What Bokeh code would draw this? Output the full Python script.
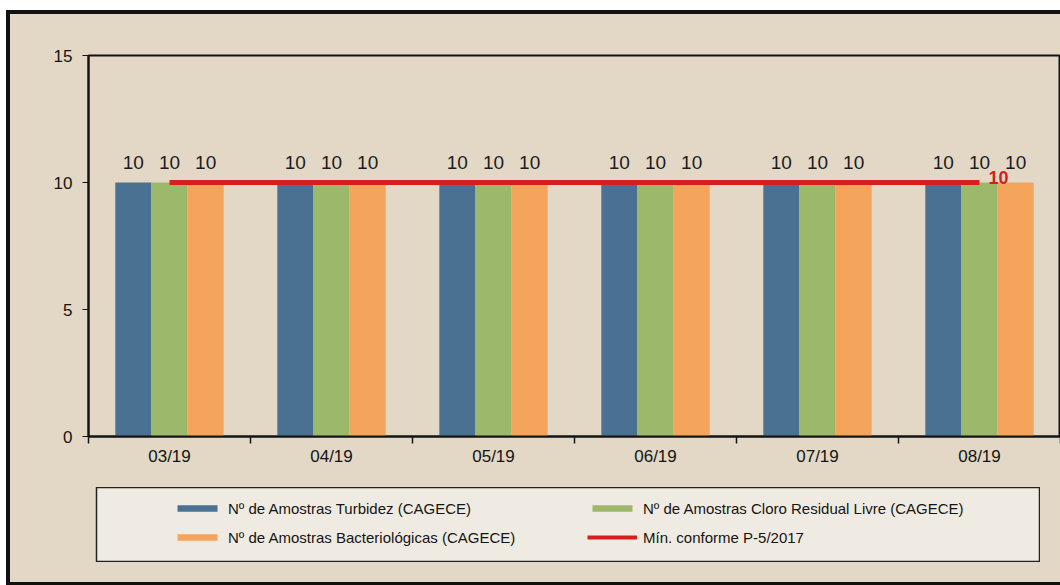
from bokeh.plotting import figure
from bokeh.models import Range1d, FixedTicker, Legend, LegendItem, ColumnDataSource
from bokeh.layouts import column
from bokeh.core.properties import value
from bokeh.embed import file_html
from bokeh.resources import INLINE

# ---------------- data ----------------
months = ["03/19", "04/19", "05/19", "06/19", "07/19", "08/19"]
turbidez = [10, 10, 10, 10, 10, 10]
cloro = [10, 10, 10, 10, 10, 10]
bacteriologicas = [10, 10, 10, 10, 10, 10]
minimo = [10, 10, 10, 10, 10, 10]
y_ticks = [0, 5, 10, 15]
name_turbidez = "Nº de Amostras Turbidez (CAGECE)"
name_cloro = "Nº de Amostras Cloro Residual Livre (CAGECE)"
name_bact = "Nº de Amostras Bacteriológicas (CAGECE)"
name_min = "Mín. conforme P-5/2017"

# ---------------- style ----------------
FONT = "Liberation Sans"
BG = "#e3d8c6"
LEG_BG = "#f0ebe2"
C_BLUE = "#4a7192"
C_GREEN = "#9cb86a"
C_ORANGE = "#f5a55b"
C_RED = "#d41f1f"
INK = "#141414"

n = len(months)
centers = [i + 0.5 for i in range(n)]
bar_w = 0.223
series = [
    (turbidez, C_BLUE, -bar_w),
    (cloro, C_GREEN, 0.0),
    (bacteriologicas, C_ORANGE, bar_w),
]

p = figure(width=1050, height=466,
           x_range=Range1d(0, n), y_range=Range1d(0, 15),
           output_backend="svg", toolbar_location=None,
           min_border_left=78, min_border_right=0,
           min_border_top=41, min_border_bottom=44,
           background_fill_color=BG, border_fill_color=BG,
           outline_line_color=INK, outline_line_width=2)
p.margin = (0, 0, 0, 0)
p.xgrid.visible = False
p.ygrid.visible = False

for vals, col, off in series:
    src = ColumnDataSource(dict(x=[c + off for c in centers], top=vals,
                                lab=[str(v) for v in vals]))
    p.vbar(x="x", top="top", width=bar_w, source=src,
           fill_color=col, line_color=None)
    p.text(x="x", y="top", text="lab", source=src,
           text_align="center", text_baseline="alphabetic", y_offset=-20,
           text_font=value(FONT), text_font_size="19px", text_color="#1c1c1c")

p.line(x=centers, y=minimo, line_color=C_RED, line_width=5)
p.text(x=[centers[-1]], y=[minimo[-1]], text=[str(minimo[-1])],
       x_offset=9, y_offset=-5, text_baseline="middle", text_align="left",
       text_font=value(FONT), text_font_size="18px", text_font_style="bold",
       text_color=C_RED)

# y axis
ya = p.yaxis[0]
ya.ticker = FixedTicker(ticks=y_ticks)
ya.axis_line_color = INK
ya.axis_line_width = 2
ya.major_tick_out = 6
ya.major_tick_in = 0
ya.major_tick_line_color = INK
ya.minor_tick_line_color = None
ya.major_label_standoff = 10
ya.major_label_text_font = FONT
ya.major_label_text_font_size = "17px"
ya.major_label_text_color = INK

# x axis
xa = p.xaxis[0]
xa.ticker = FixedTicker(ticks=centers, minor_ticks=list(range(n + 1)))
xa.major_label_overrides = {c: m for c, m in zip(centers, months)}
xa.axis_line_color = INK
xa.axis_line_width = 2
xa.major_tick_line_color = None
xa.major_tick_out = 0
xa.major_tick_in = 0
xa.minor_tick_line_color = INK
xa.minor_tick_line_width = 1.5
xa.minor_tick_out = 7
xa.minor_tick_in = 0
xa.major_label_standoff = 3
xa.major_label_text_font = FONT
xa.major_label_text_font_size = "17px"
xa.major_label_text_color = INK

# ---------------- legend box ----------------
lf = figure(width=1022, height=75, x_range=Range1d(0, 1), y_range=Range1d(0, 1),
            output_backend="svg", toolbar_location=None,
            x_axis_location=None, y_axis_location=None,
            min_border_left=0, min_border_right=0, min_border_top=0, min_border_bottom=0,
            background_fill_color=LEG_BG, border_fill_color=BG,
            outline_line_color="#222222", outline_line_width=1.5)
lf.grid.visible = False
lf.margin = (7, 0, 20, 8)

# legend-only renderers: their single sample sits below the visible range
hidden = ColumnDataSource(dict(x=[0.5], top=[-1.0], bottom=[-2.0], xs=[[0.2, 0.8]], ys=[[-1.5, -1.5]]))
r_t = lf.vbar(x="x", top="top", bottom="bottom", width=0.1, source=hidden, fill_color=C_BLUE, line_color=None)
r_c = lf.vbar(x="x", top="top", bottom="bottom", width=0.1, source=hidden, fill_color=C_GREEN, line_color=None)
r_b = lf.vbar(x="x", top="top", bottom="bottom", width=0.1, source=hidden, fill_color=C_ORANGE, line_color=None)
r_m = lf.multi_line(xs="xs", ys="ys", source=hidden, line_color=C_RED, line_width=4)

legend = Legend(items=[
    LegendItem(label=name_turbidez, renderers=[r_t]),
    LegendItem(label=name_bact, renderers=[r_b]),
    LegendItem(label=name_cloro, renderers=[r_c]),
    LegendItem(label=name_min, renderers=[r_m]),
], location=(76, 15), orientation="vertical", ncols=2,
    glyph_width=50, glyph_height=8, label_standoff=6, label_width=350,
    label_height=20, spacing=9, padding=0, margin=0,
    border_line_color=None, background_fill_alpha=0,
    label_text_font=FONT, label_text_font_size="15px", label_text_color=INK)
lf.add_layout(legend)

layout = column(p, lf, spacing=0, margin=(10, 0, 0, 6), styles={
    "border-left": "4px solid #111111",
    "border-top": "4px solid #111111",
    "border-bottom": "4px solid #111111",
    "background-color": BG,
})

open("out.html", "w").write(file_html(layout, INLINE))
